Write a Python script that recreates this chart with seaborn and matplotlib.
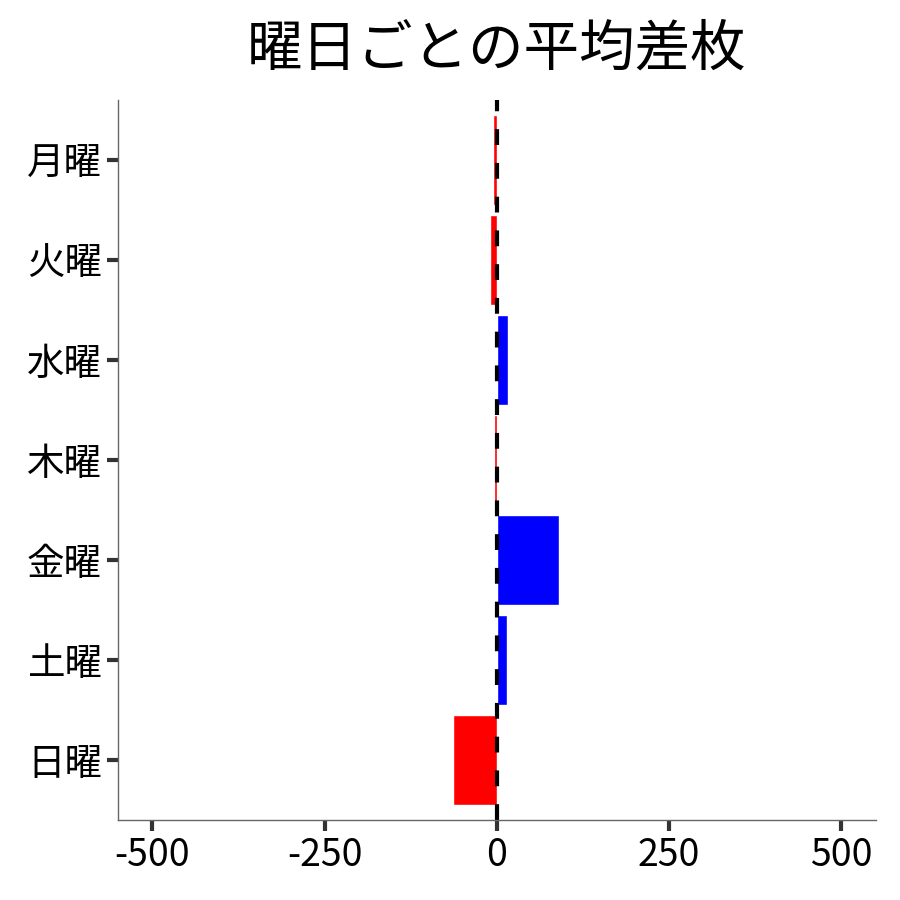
import matplotlib
matplotlib.use("Agg")
import matplotlib.pyplot as plt
import seaborn as sns
import pandas as pd

# 曜日ごとの平均差枚
days = ["月曜", "火曜", "水曜", "木曜", "金曜", "土曜", "日曜"]
diff = [-6, -10, 16, -4, 90, 15, -64]
tick_vals = [-500, -250, 0, 250, 500]

sns.set_style("ticks")
plt.rcParams['font.family'] = ['Noto Sans CJK JP', 'DejaVu Sans']
plt.rcParams['axes.unicode_minus'] = False

df = pd.DataFrame({"day": days, "diff": diff})
df["sign"] = df["diff"].apply(lambda v: "pos" if v >= 0 else "neg")

fig, ax = plt.subplots(figsize=(9, 9), dpi=100)
fig.subplots_adjust(left=0.131, right=0.973, top=0.889, bottom=0.089)

sns.barplot(data=df, x="diff", y="day", hue="sign", order=days,
            palette={"pos": "blue", "neg": "red"}, width=0.9,
            legend=False, dodge=False, saturation=1, ax=ax)
ax.axvline(0, color="black", ls="--", lw=3, dashes=(3.8, 4.3))

ax.set_xlim(-550, 550)
ax.set_ylim(6.6, -0.6)
ax.set_xticks(tick_vals)
ax.set_xticklabels([str(t) for t in tick_vals])
ax.set_xlabel("")
ax.set_ylabel("")
ax.set_title("曜日ごとの平均差枚", fontsize=40, pad=25, color="black")
ax.tick_params(axis="both", labelsize=27, length=8, width=3,
               color="#333333", labelcolor="black")
for s in ["left", "bottom"]:
    ax.spines[s].set_color("#666666")
    ax.spines[s].set_linewidth(1)
sns.despine(ax=ax)

plt.savefig("out.png", dpi=100)
